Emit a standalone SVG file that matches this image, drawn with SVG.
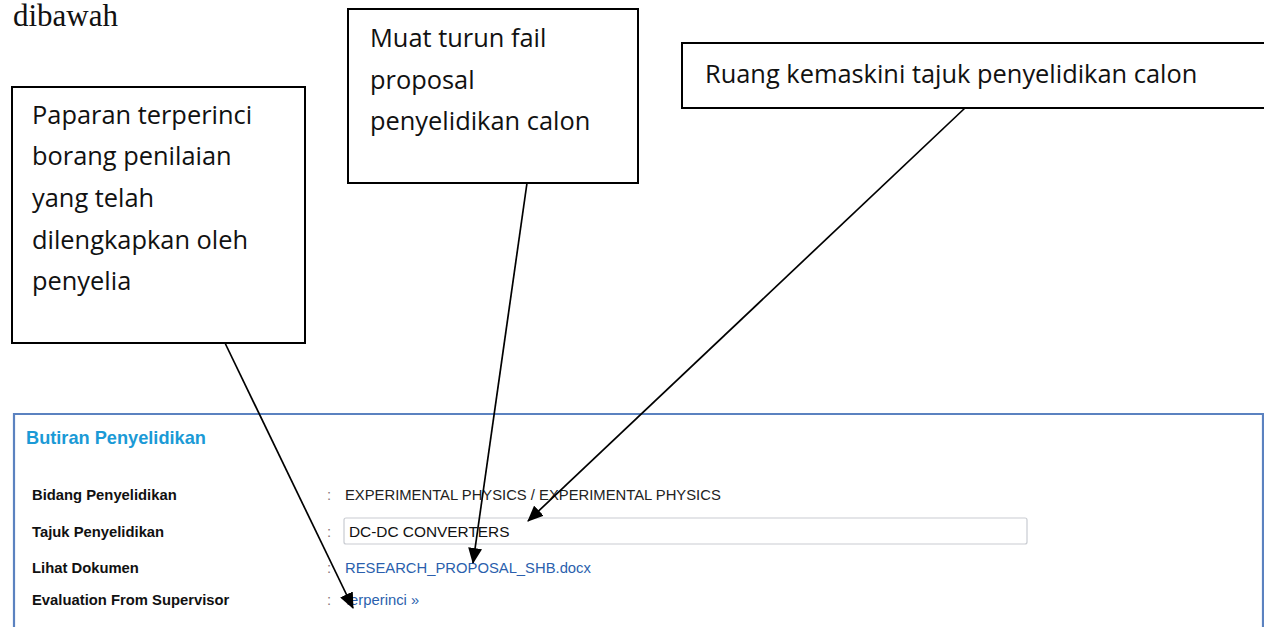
<svg xmlns="http://www.w3.org/2000/svg" width="1264" height="627" viewBox="0 0 1264 627">
<defs>
<style>
.callout{fill:#fff;stroke:#000;stroke-width:2}
.ct{font-family:"Open Sans","Noto Sans",sans-serif;font-size:25.4px;fill:#111}
.lbl{font-family:"Liberation Sans",Arial,sans-serif;font-size:14.8px;font-weight:bold;fill:#111}
.val{font-family:"Liberation Sans",Arial,sans-serif;font-size:14.8px;fill:#222}
.lnk{font-family:"Liberation Sans",Arial,sans-serif;font-size:14.8px;fill:#2b5fad}
.col{font-family:"Liberation Sans",Arial,sans-serif;font-size:14.8px;fill:#8a7a7a}
.conn{stroke:#000;stroke-width:1.7;fill:none;marker-end:url(#ah)}
</style>
<marker id="ah" viewBox="0 0 16 14" refX="15" refY="7" markerWidth="16" markerHeight="14" markerUnits="userSpaceOnUse" orient="auto">
<path d="M0,0 L16,7 L0,14 z" fill="#000"/>
</marker>
</defs>
<rect width="1264" height="627" fill="#fff"/>
<text x="13" y="26" font-family="'Liberation Serif','Times New Roman',serif" font-size="31" fill="#111">dibawah</text>

<g id="panel">
<path d="M14,627 V414 H1263 V627" fill="none" stroke="#5b82c0" stroke-width="2.2"/>
<text x="26" y="444" font-family="'Liberation Sans',Arial,sans-serif" font-size="18.2" font-weight="bold" fill="#1b9ad6">Butiran Penyelidikan</text>
<text class="lbl" x="32" y="500">Bidang Penyelidikan</text>
<text class="lbl" x="32" y="537">Tajuk Penyelidikan</text>
<text class="lbl" x="32" y="573">Lihat Dokumen</text>
<text class="lbl" x="32" y="605">Evaluation From Supervisor</text>
<text class="col" x="327" y="500">:</text>
<text class="col" x="327" y="537">:</text>
<text class="col" x="327" y="573">:</text>
<text class="col" x="327" y="605">:</text>
<text class="val" x="345" y="500">EXPERIMENTAL PHYSICS / EXPERIMENTAL PHYSICS</text>
<rect x="344" y="518" width="683" height="26" rx="2" fill="#fff" stroke="#c9ccd2" stroke-width="1.2"/>
<text x="349" y="537" font-family="'Liberation Sans',Arial,sans-serif" font-size="15.4" fill="#111">DC-DC CONVERTERS</text>
<text class="lnk" x="345" y="573">RESEARCH_PROPOSAL_SHB.docx</text>
<text class="lnk" x="346" y="605">terperinci »</text>
</g>

<g id="box-paparan">
<rect class="callout" x="12" y="87" width="293" height="256"/>
<text class="ct" x="32" y="124">Paparan terperinci</text>
<text class="ct" x="32" y="165">borang penilaian</text>
<text class="ct" x="32" y="207">yang telah</text>
<text class="ct" x="32" y="249">dilengkapkan oleh</text>
<text class="ct" x="32" y="290">penyelia</text>
</g>

<g id="box-muat">
<rect class="callout" x="348" y="9" width="290" height="174"/>
<text class="ct" x="370" y="47">Muat turun fail</text>
<text class="ct" x="370" y="89">proposal</text>
<text class="ct" x="370" y="130">penyelidikan calon</text>
</g>

<g id="box-ruang">
<rect class="callout" x="682" y="43" width="620" height="65"/>
<text class="ct" x="705" y="83">Ruang kemaskini tajuk penyelidikan calon</text>
</g>

<g id="connectors">
<line class="conn" x1="225" y1="343" x2="353" y2="608"/>
<line class="conn" x1="527" y1="183" x2="473" y2="563"/>
<line class="conn" x1="965" y1="108" x2="528" y2="521"/>
</g>
</svg>
